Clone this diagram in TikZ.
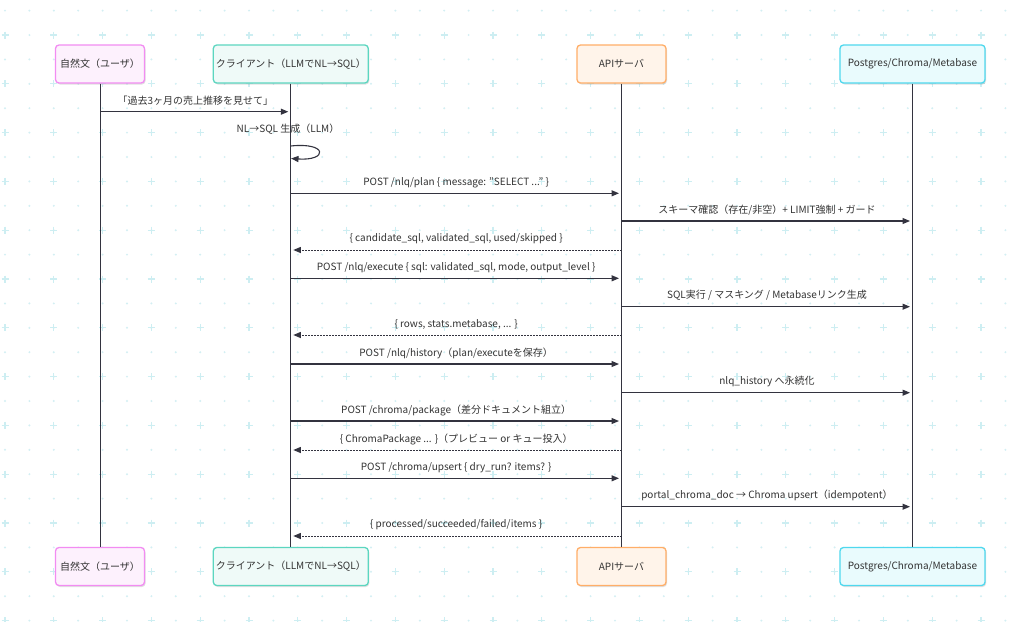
\documentclass[tikz,border=0pt]{standalone}
\usepackage{fontspec}
\setmainfont{Noto Sans CJK JP}
\usetikzlibrary{arrows.meta,shadows}
\definecolor{txt}{HTML}{333333}
\definecolor{line}{HTML}{33333F}
\definecolor{gridc}{HTML}{CDEEF2}
\definecolor{dotc}{HTML}{D3EFF3}
\definecolor{userB}{HTML}{F28CF2}
\definecolor{userF}{HTML}{FDF1FD}
\definecolor{cliB}{HTML}{5CD6C0}
\definecolor{cliF}{HTML}{EFFAF8}
\definecolor{apiB}{HTML}{FFAE68}
\definecolor{apiF}{HTML}{FFF4EA}
\definecolor{dbB}{HTML}{4FD8EE}
\definecolor{dbF}{HTML}{E9FBFD}
\tikzset{
  part/.style={draw, line width=1.3pt, rounded corners=3.5pt, minimum height=38pt, inner sep=0pt,
    text=txt, font=\fontsize{10}{12}\selectfont,
    drop shadow={shadow xshift=1pt, shadow yshift=-1.5pt, opacity=0.12, fill=black}},
  userbox/.style={part, draw=userB, fill=userF, minimum width=89pt},
  clibox/.style={part, draw=cliB, fill=cliF, minimum width=155pt},
  apibox/.style={part, draw=apiB, fill=apiF, minimum width=89pt},
  dbbox/.style={part, draw=dbB, fill=dbF, minimum width=145pt},
  life/.style={draw=line, line width=1pt},
  call/.style={draw=line, line width=1.1pt, -{Triangle[length=7.5pt,width=6pt]}, shorten >=2.5pt},
  reply/.style={call, line width=0.9pt, dash pattern=on 1.6pt off 1.4pt},
  lbl/.style={midway, yshift=11pt, inner sep=0pt, text=txt, font=\fontsize{10}{12}\selectfont},
  plus/.style={draw=gridc, line width=1.3pt}
}
\begin{document}
\begin{tikzpicture}[x=1pt, y=-1pt]
\useasboundingbox[fill=white] (0,0) rectangle (1024,621);
% background grid
\foreach \i in {0,...,41} {
  \foreach \j in {0,...,25} {
    \fill[dotc] (5+24.4*\i, 10.6+24.4*\j) circle (1.1pt);
  }
}
\foreach \i in {0,...,21} {
  \foreach \j in {0,...,12} {
    \draw[plus] (1.5+48.8*\i, 35+48.8*\j) -- (8.5+48.8*\i, 35+48.8*\j)
                (5+48.8*\i, 31.5+48.8*\j) -- (5+48.8*\i, 38.5+48.8*\j);
  }
}
% participants
\node[userbox] (user) at (100,64) {自然文（ユーザ）};
\node[clibox] (client) at (290.8,64) {クライアント（LLMでNL→SQL）};
\node[apibox] (api) at (621.5,64) {APIサーバ};
\node[dbbox] (db) at (912.5,64) {Postgres/Chroma/Metabase};
\node[userbox] (userB) at (100,566.5) {自然文（ユーザ）};
\node[clibox] (clientB) at (290.8,566.5) {クライアント（LLMでNL→SQL）};
\node[apibox] (apiB) at (621.5,566.5) {APIサーバ};
\node[dbbox] (dbB) at (912.5,566.5) {Postgres/Chroma/Metabase};
% lifelines
\draw[life] (user.south) -- (userB.north);
\draw[life] (client.south) -- (clientB.north);
\draw[life] (api.south) -- (apiB.north);
\draw[life] (db.south) -- (dbB.north);
% message rows
\coordinate (r1) at (0,111.7);
\coordinate (r3) at (0,193.3);
\coordinate (r4) at (0,221);
\coordinate (r5) at (0,250);
\coordinate (r6) at (0,278.3);
\coordinate (r7) at (0,306.7);
\coordinate (r8) at (0,335);
\coordinate (r9) at (0,364);
\coordinate (r10) at (0,392.7);
\coordinate (r11) at (0,421);
\coordinate (r12) at (0,450);
\coordinate (r13) at (0,478.3);
\coordinate (r14) at (0,506.7);
\coordinate (r15) at (0,536);
% messages
\draw[call] (user |- r1) -- (client |- r1) node[lbl] {「過去3ヶ月の売上推移を見せて」};
\coordinate (s1) at (290.8,146);
\coordinate (s2) at (291,158.5);
\node[inner sep=0pt, text=txt, font=\fontsize{10}{12}\selectfont] (selflbl) at (288,129.3) {NL→SQL 生成（LLM）};
\draw[call, shorten >=0pt] (s1) .. controls (328,142) and (328,161) .. (s2);
\draw[call] (client |- r3) -- (api |- r3) node[lbl] {POST /nlq/plan \{ message: "SELECT ..." \}};
\draw[call] (api |- r4) -- (db |- r4) node[lbl] {スキーマ確認（存在/非空）+ LIMIT強制 + ガード};
\draw[reply] (api |- r5) -- (client |- r5) node[lbl] {\{ candidate\_sql, validated\_sql, used/skipped \}};
\draw[call] (client |- r6) -- (api |- r6) node[lbl] {POST /nlq/execute \{ sql: validated\_sql, mode, output\_level \}};
\draw[call] (api |- r7) -- (db |- r7) node[lbl] {SQL実行 / マスキング / Metabaseリンク生成};
\draw[reply] (api |- r8) -- (client |- r8) node[lbl] {\{ rows, stats.metabase, ... \}};
\draw[call] (client |- r9) -- (api |- r9) node[lbl] {POST /nlq/history（plan/executeを保存）};
\draw[call] (api |- r10) -- (db |- r10) node[lbl] {nlq\_history へ永続化};
\draw[call] (client |- r11) -- (api |- r11) node[lbl] {POST /chroma/package（差分ドキュメント組立）};
\draw[reply] (api |- r12) -- (client |- r12) node[lbl] {\{ ChromaPackage ... \}（プレビュー or キュー投入）};
\draw[call] (client |- r13) -- (api |- r13) node[lbl] {POST /chroma/upsert \{ dry\_run? items? \}};
\draw[call] (api |- r14) -- (db |- r14) node[lbl] {portal\_chroma\_doc → Chroma upsert（idempotent）};
\draw[reply] (api |- r15) -- (client |- r15) node[lbl] {\{ processed/succeeded/failed/items \}};
\end{tikzpicture}
\end{document}
